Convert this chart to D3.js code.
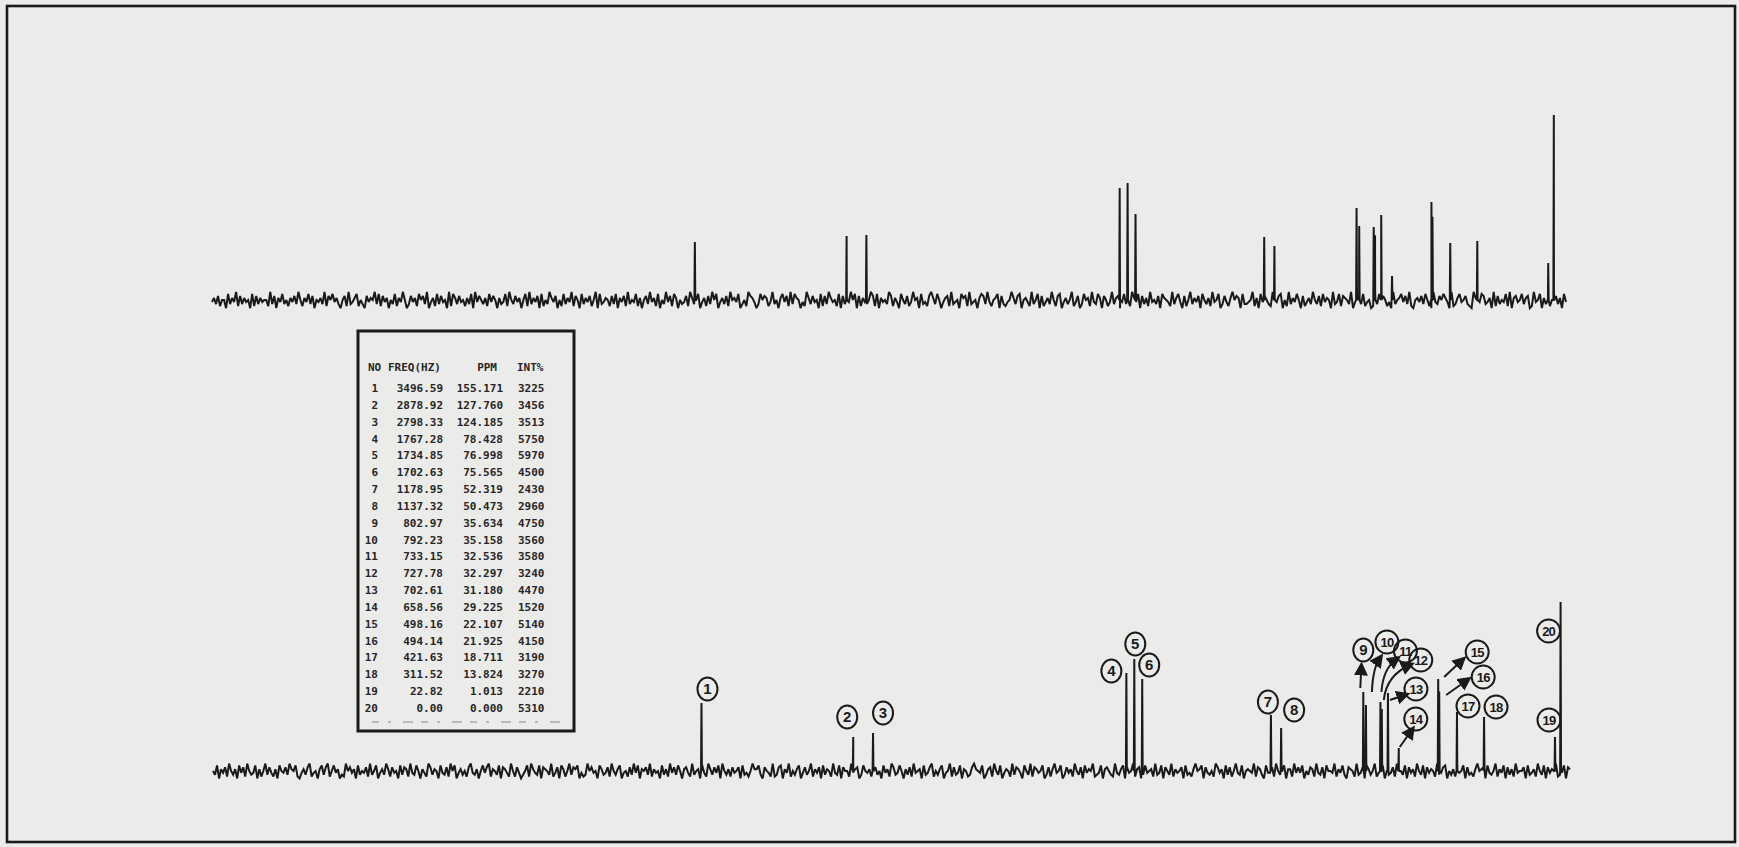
<!DOCTYPE html>
<html>
<head>
<meta charset="utf-8">
<script src="https://cdn.jsdelivr.net/npm/d3@7/dist/d3.min.js"></script>
<style>
  html, body { margin: 0; padding: 0; background: #ebebea; }
  svg { display: block; }
</style>
</head>
<body>
<svg id="chart" width="1739" height="847"></svg>
<script>
// 13C peak list (22.5 MHz, CDCl3, TMS = 0)
const peakNo  = [1, 2, 3, 4, 5, 6, 7, 8, 9, 10, 11, 12, 13, 14, 15, 16, 17, 18, 19, 20];
const freqHz  = [3496.59, 2878.92, 2798.33, 1767.28, 1734.85, 1702.63, 1178.95, 1137.32, 802.97, 792.23,
                 733.15, 727.78, 702.61, 658.56, 498.16, 494.14, 421.63, 311.52, 22.82, 0.00];
const ppm     = [155.171, 127.760, 124.185, 78.428, 76.998, 75.565, 52.319, 50.473, 35.634, 35.158,
                 32.536, 32.297, 31.180, 29.225, 22.107, 21.925, 18.711, 13.824, 1.013, 0.000];
const intPct  = [3225, 3456, 3513, 5750, 5970, 4500, 2430, 2960, 4750, 3560,
                 3580, 3240, 4470, 1520, 5140, 4150, 3190, 3270, 2210, 5310];

// Peak heights of the two plotted traces (TMS line = 100)
const upperHeight = [31.4, 34.6, 35.1, 60.5, 63.2, 46.5, 34.1, 29.2, 49.7, 40.0,
                     39.5, 35.0, 46.0, 13.0, 53.0, 45.0, 30.8, 31.9, 20.0, 100];
const lowerHeight = [40.2, 20.1, 22.5, 58.0, 66.3, 54.4, 33.1, 25.4, 46.7, 39.0,
                     40.8, 36.7, 46.2, 13.6, 54.4, 47.0, 34.9, 32.0, 20.1, 100];

// Baseline noise of each trace, one digit per sample (5 = baseline)
const upperNoise = `
46372 55183 64927 36451 82736 45529 37164 83526 47395 26483
71546 39275 84631 57293 46825 31746 59382 74615 38264 95137
46285 73914 62837 45192 86374 52638 19475 36284 75163 48295
37461 58293 64718 25396 47152 83649 27518 36472 59183 46527
38164 72935 48261 57394 62815 39472 86153 47296 35814 62739
58146 37295 64813 52976 41385 76249 35168 47293 86514 29637
45182 73964 52817 36495 81726 43597 28164 53972 64185 37249
56183 42796 38514 67293 45186 72934 51687 39425 68173 24596
37815 64293 58172 46395 27814 63592 47138 56294 38617 52493
67148 35296 48173 62945 37186 54293 68417 25936 47185 36294
58137 42695 76183 34592 61847 53296 47815 29364 85172 46395
37284 65193 48276 53914 67382 45129 38675 24193 56847 39215
64738 52194 37586 41923 68457 32196 54873 46192 73548 29167
45836 71294 58163 42597 36184`.replace(/\s/g, "");
const lowerNoise = `
53816 47295 36184 72953 48162 59374 26185 47396 58214 63792
45168 37925 84613 29574 61835 47293 58146 39627 45183 76294
38516 42973 65184 37295 81463 52794 36158 47926 53817 64295
27413 58296 43817 65392 47186 25937 68142 39574 51863 47295
36814 52739 48165 73926 45183 62947 38516 74293 56184 29637
48195 36274 57183 42596 68317 54292 37816 49253 68147 35926
47183 65294 38175 52946 71385 46297 35184 62973 48516 37294
56183 47925 36814 59273 48165 23796 54813 67295 38146 52937
64185 39276 45813 72694 58137 46295 37184 65923 48167 53294
36817 45926 71384 56293 48175 39264 57183 42695 68174 35297
46183 72594 38156 54927 63184 47295 35816 62947 48153 76294
37185 54926 48317 65293 47186 35924 68153 47296 53817 46295
38174 65293 47815 36294 58173 42695 67184 35926 48173 62945
57183 46295 38174 65923 48176`.replace(/\s/g, "");

// Hand-written peak labels on the lower trace: offset from the peak foot [dx, rise]
const labelOffset = [[6, 82], [-6, 54], [10, 58], [-15, 100], [1, 127], [7, 106], [-3, 69], [13, 61],
                     [0, 121], [21, 129], [25, 120], [39, 111], [28, 82], [17, 52], [39, 119], [44, 94],
                     [11, 65], [12, 64], [-6, 51], [-12, 140]];
// Arrows from crowded peaks to their labels: [peak, dx0, rise0, dx1, rise1, curved]
const arrows = [[9, -3, 83, -2, 104, false], [10, 6, 79, 14, 113, true], [11, 1, 79, 16, 112, true],
                [12, 2, 71, 28, 106, true], [13, 2, 71, 17, 76, false], [14, 1, 24, 13, 41, false],
                [15, 6, 94, 24, 111, false], [16, 7, 76, 28, 91, false]];

const ink = "#1a1a1a";
const svg = d3.select("#chart");

// Page frame
svg.append("rect")
  .attr("x", 7).attr("y", 6).attr("width", 1728).attr("height", 836)
  .attr("fill", "none").attr("stroke", ink).attr("stroke-width", 2.6);

// Scales for the two traces (ppm decreases to the right)
const xUpper = d3.scaleLinear().domain([242.4, -2.2]).range([212, 1566]);
const yUpper = d3.scaleLinear().domain([0, 100]).range([300, 115]);
const xLower = d3.scaleLinear().domain([243.4, -1.7]).range([213, 1570]);
const yLower = d3.scaleLinear().domain([0, 100]).range([771, 602]);

const noiseUnit = 1.1;

function drawTrace(x, y, heights, noise) {
  const [d0, d1] = x.domain();
  const n = noise.length;
  const pts = [];
  for (let i = 0; i < n; i++) {
    const p = d0 + (d1 - d0) * i / (n - 1);
    pts.push([x(p), y((+noise[i] - 5) * noiseUnit)]);
  }
  ppm.forEach((p, i) => {
    const px = x(p);
    pts.push([px - 0.45, y(0)], [px, y(heights[i])], [px + 0.45, y(0)]);
  });
  pts.sort((a, b) => a[0] - b[0]);
  svg.append("path")
    .attr("d", d3.line()(pts))
    .attr("fill", "none")
    .attr("stroke", ink)
    .attr("stroke-width", 2)
    .attr("stroke-linejoin", "miter")
    .attr("stroke-miterlimit", 2.5);
}

drawTrace(xUpper, yUpper, upperHeight, upperNoise);
drawTrace(xLower, yLower, lowerHeight, lowerNoise);

// Printed peak table
const tbl = svg.append("g")
  .attr("font-family", "'DejaVu Sans Mono', monospace")
  .attr("font-size", 11)
  .attr("font-weight", "bold")
  .attr("fill", "#262626");
tbl.append("rect")
  .attr("x", 358).attr("y", 331).attr("width", 216).attr("height", 400)
  .attr("fill", "none").attr("stroke", ink).attr("stroke-width", 3);
const headY = 371;
tbl.append("text").attr("x", 368).attr("y", headY).text("NO");
tbl.append("text").attr("x", 388).attr("y", headY).text("FREQ(HZ)");
tbl.append("text").attr("x", 497).attr("y", headY).attr("text-anchor", "end").text("PPM");
tbl.append("text").attr("x", 517).attr("y", headY).text("INT%");
const rowY = d3.scaleLinear().domain([1, 20]).range([392, 712]);
peakNo.forEach((no, i) => {
  const yy = rowY(no);
  tbl.append("text").attr("x", 378).attr("y", yy).attr("text-anchor", "end").text(no);
  tbl.append("text").attr("x", 443).attr("y", yy).attr("text-anchor", "end").text(freqHz[i].toFixed(2));
  tbl.append("text").attr("x", 503).attr("y", yy).attr("text-anchor", "end").text(ppm[i].toFixed(3));
  tbl.append("text").attr("x", 518).attr("y", yy).text(intPct[i]);
});
tbl.append("line")
  .attr("x1", 372).attr("x2", 562).attr("y1", 722).attr("y2", 722)
  .attr("stroke", "#8a8a8a").attr("stroke-width", 1.2).attr("stroke-dasharray", "7 9 3 12 10 8");

// Circled peak numbers on the lower trace
const lab = svg.append("g")
  .attr("font-family", "'Liberation Sans', 'DejaVu Sans', sans-serif")
  .attr("fill", ink);
peakNo.forEach((no, i) => {
  const [dx, rise] = labelOffset[i];
  const cx = xLower(ppm[i]) + dx;
  const cy = yLower(0) - rise;
  const two = no >= 10;
  lab.append("ellipse")
    .attr("cx", cx).attr("cy", cy)
    .attr("rx", two ? 11.5 : 10).attr("ry", 11.5)
    .attr("fill", "none").attr("stroke", ink).attr("stroke-width", 2);
  lab.append("text")
    .attr("x", cx).attr("y", cy + 5)
    .attr("text-anchor", "middle")
    .attr("font-size", two ? 13 : 15)
    .attr("font-weight", "bold")
    .attr("letter-spacing", two ? -0.8 : 0)
    .text(no);
});

// Arrow heads
svg.append("defs").append("marker")
  .attr("id", "head").attr("viewBox", "0 0 10 10")
  .attr("refX", 6).attr("refY", 5)
  .attr("markerWidth", 7).attr("markerHeight", 7)
  .attr("orient", "auto-start-reverse")
  .append("path").attr("d", "M0,0 L10,5 L0,10 z").attr("fill", ink);

arrows.forEach(([no, dx0, r0, dx1, r1, curved]) => {
  const px = xLower(ppm[no - 1]);
  const base = yLower(0);
  const sx = px + dx0, sy = base - r0, ex = px + dx1, ey = base - r1;
  const path = d3.path();
  path.moveTo(sx, sy);
  if (curved) {
    path.quadraticCurveTo(sx + (ex - sx) * 0.1, ey + (sy - ey) * 0.3, ex, ey);
  } else {
    path.lineTo(ex, ey);
  }
  svg.append("path")
    .attr("d", path.toString())
    .attr("fill", "none").attr("stroke", ink).attr("stroke-width", 2)
    .attr("marker-end", "url(#head)");
});
</script>
</body>
</html>
